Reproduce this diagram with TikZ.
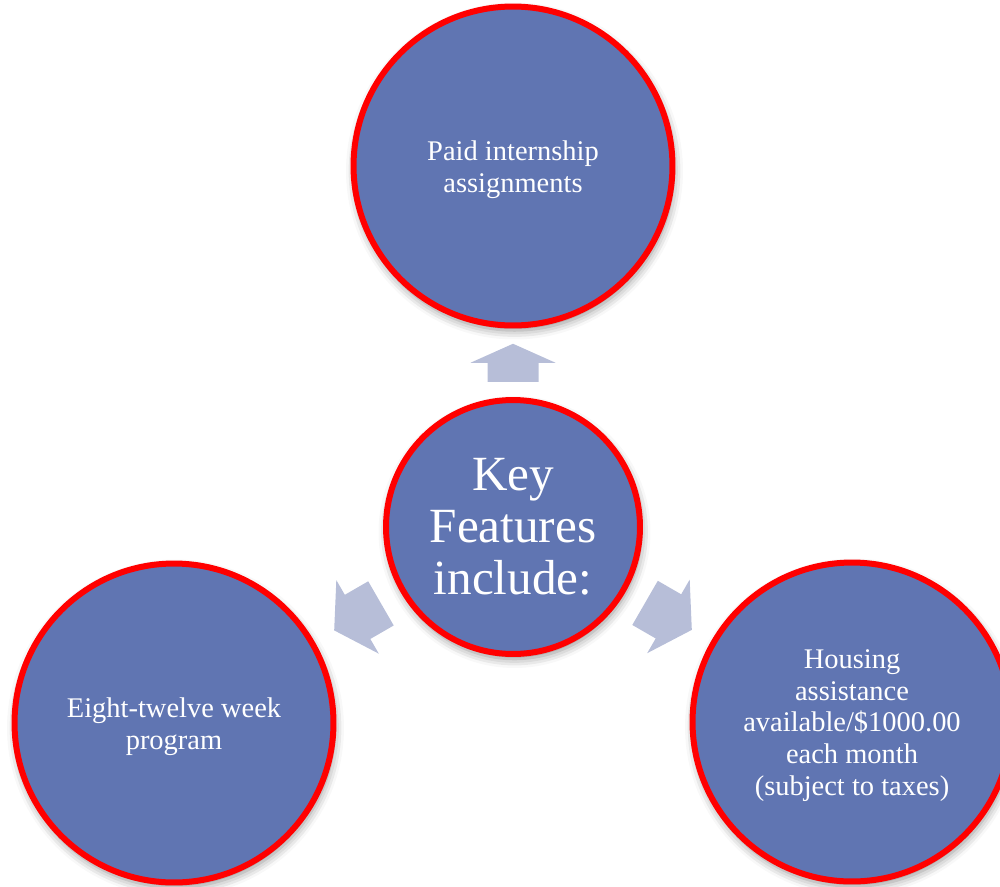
\documentclass[tikz,border=0pt]{standalone}
\usepackage{fontspec}
\setmainfont{Liberation Serif}
\usetikzlibrary{shadows.blur,calc}
\definecolor{cfill}{HTML}{6075B2}
\definecolor{carrow}{HTML}{B7BED8}
\tikzset{
  bubble/.style={circle, fill=cfill, draw=red, line width=0.12cm, inner sep=0pt,
    blur shadow={shadow xshift=0.03cm, shadow yshift=-0.1cm, shadow blur radius=0.18cm, shadow opacity=45}},
  outer/.style={bubble, minimum size=6.38cm},
  inner/.style={bubble, minimum size=5.08cm},
  outertext/.style={text=white, align=center, inner sep=0pt, font=\fontsize{16.2}{18.1}\selectfont},
  innertext/.style={text=white, align=center, inner sep=0pt, font=\fontsize{28}{29.5}\selectfont},
  fwdarrow/.pic={\fill[carrow] (#1,0) -- (0,42.5) -- (0,25.5) -- (-#1,25.5) -- (-#1,-25.5) -- (0,-25.5) -- (0,-42.5) -- cycle;}
}
\begin{document}
\begin{tikzpicture}[x=0.02cm, y=-0.02cm]
\useasboundingbox (0,0) rectangle (1000,886);
\node[outer] (t) at (513,166) {};
\node[inner] (c) at (513,527) {};
\node[outer] (l) at (174,723) {};
\node[outer] (r) at (852,722) {};
\node[outertext] (tt) at ($(t)+(0,4)$) {Paid internship\\assignments};
\node[innertext] (ct) at ($(c)+(0,0)$) {Key\\Features\\include:};
\node[outertext] (lt) at ($(l)+(0,4)$) {Eight-twelve week\\program};
\node[outertext] (rt) at ($(r)+(0,3.5)$) {Housing\\assistance\\available/\$1000.00\\each month\\(subject to taxes)};
\pic[rotate=90] at ($(c.north)!0.5!(t.south)$) {fwdarrow=19};
\pic[rotate=210] at ($(c.210)!0.5!(l.30)$) {fwdarrow=27};
\pic[rotate=-30] at ($(c.330)!0.5!(r.150)$) {fwdarrow=27};
\end{tikzpicture}
\end{document}
